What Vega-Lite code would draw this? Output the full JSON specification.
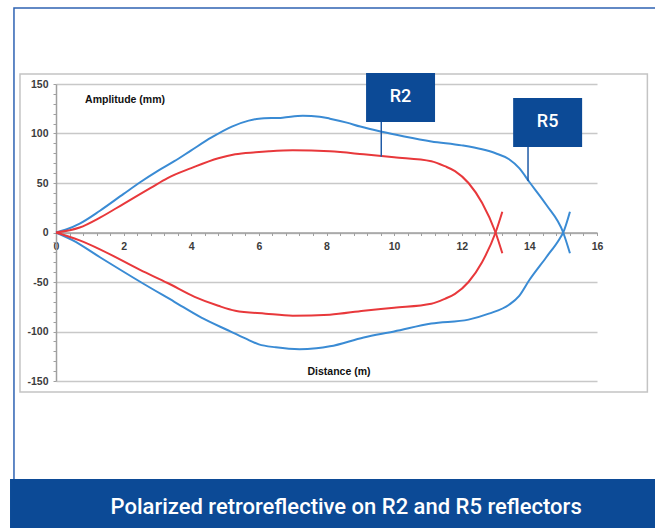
{
  "$schema": "https://vega.github.io/schema/vega-lite/v6.json",
  "width": 541,
  "height": 297,
  "autosize": {"type": "none"},
  "padding": {"left": 56, "top": 84, "right": 58, "bottom": 147},
  "background": "white",
  "config": {
    "view": {"stroke": null},
    "axis": {"labelFont": "Liberation Sans", "titleFont": "Liberation Sans"}
  },
  "datasets": {
    "curves": [
      {"series": "R5", "branch": "upper", "i": 0, "x": 0, "y": 0},
      {"series": "R5", "branch": "upper", "i": 1, "x": 0.3, "y": 3},
      {"series": "R5", "branch": "upper", "i": 2, "x": 0.7, "y": 9},
      {"series": "R5", "branch": "upper", "i": 3, "x": 1.3, "y": 22},
      {"series": "R5", "branch": "upper", "i": 4, "x": 2.0, "y": 39},
      {"series": "R5", "branch": "upper", "i": 5, "x": 2.5, "y": 51},
      {"series": "R5", "branch": "upper", "i": 6, "x": 3.0, "y": 62},
      {"series": "R5", "branch": "upper", "i": 7, "x": 3.5, "y": 72},
      {"series": "R5", "branch": "upper", "i": 8, "x": 4.0, "y": 83},
      {"series": "R5", "branch": "upper", "i": 9, "x": 4.6, "y": 96},
      {"series": "R5", "branch": "upper", "i": 10, "x": 5.2, "y": 107},
      {"series": "R5", "branch": "upper", "i": 11, "x": 5.7, "y": 113},
      {"series": "R5", "branch": "upper", "i": 12, "x": 6.0, "y": 115},
      {"series": "R5", "branch": "upper", "i": 13, "x": 6.7, "y": 116},
      {"series": "R5", "branch": "upper", "i": 14, "x": 7.3, "y": 118},
      {"series": "R5", "branch": "upper", "i": 15, "x": 7.8, "y": 117},
      {"series": "R5", "branch": "upper", "i": 16, "x": 8.1, "y": 115},
      {"series": "R5", "branch": "upper", "i": 17, "x": 8.6, "y": 111},
      {"series": "R5", "branch": "upper", "i": 18, "x": 9.0, "y": 107},
      {"series": "R5", "branch": "upper", "i": 19, "x": 9.6, "y": 102},
      {"series": "R5", "branch": "upper", "i": 20, "x": 10.3, "y": 97},
      {"series": "R5", "branch": "upper", "i": 21, "x": 11.1, "y": 92},
      {"series": "R5", "branch": "upper", "i": 22, "x": 12.0, "y": 88},
      {"series": "R5", "branch": "upper", "i": 23, "x": 12.6, "y": 84},
      {"series": "R5", "branch": "upper", "i": 24, "x": 13.0, "y": 80},
      {"series": "R5", "branch": "upper", "i": 25, "x": 13.4, "y": 74},
      {"series": "R5", "branch": "upper", "i": 26, "x": 13.7, "y": 65},
      {"series": "R5", "branch": "upper", "i": 27, "x": 14.0, "y": 51},
      {"series": "R5", "branch": "upper", "i": 28, "x": 14.5, "y": 28},
      {"series": "R5", "branch": "upper", "i": 29, "x": 15.0, "y": 0},
      {"series": "R5", "branch": "upper", "i": 30, "x": 15.2, "y": -21},
      {"series": "R5", "branch": "lower", "i": 0, "x": 0, "y": 0},
      {"series": "R5", "branch": "lower", "i": 1, "x": 0.5, "y": -8},
      {"series": "R5", "branch": "lower", "i": 2, "x": 1.3, "y": -25},
      {"series": "R5", "branch": "lower", "i": 3, "x": 2.5, "y": -50},
      {"series": "R5", "branch": "lower", "i": 4, "x": 3.5, "y": -70},
      {"series": "R5", "branch": "lower", "i": 5, "x": 4.3, "y": -86},
      {"series": "R5", "branch": "lower", "i": 6, "x": 5.1, "y": -99},
      {"series": "R5", "branch": "lower", "i": 7, "x": 5.6, "y": -107},
      {"series": "R5", "branch": "lower", "i": 8, "x": 6.0, "y": -113},
      {"series": "R5", "branch": "lower", "i": 9, "x": 6.5, "y": -116},
      {"series": "R5", "branch": "lower", "i": 10, "x": 7.2, "y": -118},
      {"series": "R5", "branch": "lower", "i": 11, "x": 7.7, "y": -117},
      {"series": "R5", "branch": "lower", "i": 12, "x": 8.1, "y": -115},
      {"series": "R5", "branch": "lower", "i": 13, "x": 9.1, "y": -106},
      {"series": "R5", "branch": "lower", "i": 14, "x": 10.0, "y": -100},
      {"series": "R5", "branch": "lower", "i": 15, "x": 11.1, "y": -92},
      {"series": "R5", "branch": "lower", "i": 16, "x": 12.2, "y": -88},
      {"series": "R5", "branch": "lower", "i": 17, "x": 12.8, "y": -82},
      {"series": "R5", "branch": "lower", "i": 18, "x": 13.4, "y": -73},
      {"series": "R5", "branch": "lower", "i": 19, "x": 13.7, "y": -64},
      {"series": "R5", "branch": "lower", "i": 20, "x": 14.0, "y": -48},
      {"series": "R5", "branch": "lower", "i": 21, "x": 14.5, "y": -25},
      {"series": "R5", "branch": "lower", "i": 22, "x": 14.9, "y": -6},
      {"series": "R5", "branch": "lower", "i": 23, "x": 15.0, "y": 0},
      {"series": "R5", "branch": "lower", "i": 24, "x": 15.2, "y": 21},
      {"series": "R2", "branch": "upper", "i": 0, "x": 0, "y": 0},
      {"series": "R2", "branch": "upper", "i": 1, "x": 0.7, "y": 5},
      {"series": "R2", "branch": "upper", "i": 2, "x": 1.3, "y": 15},
      {"series": "R2", "branch": "upper", "i": 3, "x": 2.0, "y": 29},
      {"series": "R2", "branch": "upper", "i": 4, "x": 2.8, "y": 45},
      {"series": "R2", "branch": "upper", "i": 5, "x": 3.3, "y": 55},
      {"series": "R2", "branch": "upper", "i": 6, "x": 4.0, "y": 65},
      {"series": "R2", "branch": "upper", "i": 7, "x": 4.8, "y": 75},
      {"series": "R2", "branch": "upper", "i": 8, "x": 5.3, "y": 79},
      {"series": "R2", "branch": "upper", "i": 9, "x": 5.9, "y": 81},
      {"series": "R2", "branch": "upper", "i": 10, "x": 6.3, "y": 82},
      {"series": "R2", "branch": "upper", "i": 11, "x": 7.0, "y": 83},
      {"series": "R2", "branch": "upper", "i": 12, "x": 8.1, "y": 82},
      {"series": "R2", "branch": "upper", "i": 13, "x": 9.1, "y": 79},
      {"series": "R2", "branch": "upper", "i": 14, "x": 10.0, "y": 76},
      {"series": "R2", "branch": "upper", "i": 15, "x": 11.1, "y": 72},
      {"series": "R2", "branch": "upper", "i": 16, "x": 11.5, "y": 67},
      {"series": "R2", "branch": "upper", "i": 17, "x": 11.8, "y": 62},
      {"series": "R2", "branch": "upper", "i": 18, "x": 12.2, "y": 50},
      {"series": "R2", "branch": "upper", "i": 19, "x": 12.6, "y": 30},
      {"series": "R2", "branch": "upper", "i": 20, "x": 13.0, "y": 0},
      {"series": "R2", "branch": "upper", "i": 21, "x": 13.2, "y": -21},
      {"series": "R2", "branch": "lower", "i": 0, "x": 0, "y": 0},
      {"series": "R2", "branch": "lower", "i": 1, "x": 0.7, "y": -8},
      {"series": "R2", "branch": "lower", "i": 2, "x": 1.3, "y": -17},
      {"series": "R2", "branch": "lower", "i": 3, "x": 2.5, "y": -38},
      {"series": "R2", "branch": "lower", "i": 4, "x": 3.3, "y": -51},
      {"series": "R2", "branch": "lower", "i": 5, "x": 4.1, "y": -65},
      {"series": "R2", "branch": "lower", "i": 6, "x": 4.8, "y": -74},
      {"series": "R2", "branch": "lower", "i": 7, "x": 5.3, "y": -79},
      {"series": "R2", "branch": "lower", "i": 8, "x": 6.2, "y": -82},
      {"series": "R2", "branch": "lower", "i": 9, "x": 7.0, "y": -84},
      {"series": "R2", "branch": "lower", "i": 10, "x": 8.1, "y": -83},
      {"series": "R2", "branch": "lower", "i": 11, "x": 9.1, "y": -79},
      {"series": "R2", "branch": "lower", "i": 12, "x": 10.0, "y": -76},
      {"series": "R2", "branch": "lower", "i": 13, "x": 11.1, "y": -72},
      {"series": "R2", "branch": "lower", "i": 14, "x": 11.5, "y": -67},
      {"series": "R2", "branch": "lower", "i": 15, "x": 11.8, "y": -62},
      {"series": "R2", "branch": "lower", "i": 16, "x": 12.2, "y": -50},
      {"series": "R2", "branch": "lower", "i": 17, "x": 12.6, "y": -30},
      {"series": "R2", "branch": "lower", "i": 18, "x": 13.0, "y": 0},
      {"series": "R2", "branch": "lower", "i": 19, "x": 13.2, "y": 21}
    ],
    "one": [{}]
  },
  "layer": [
    {
      "data": {"name": "curves"},
      "mark": {"type": "line", "strokeWidth": 2, "interpolate": "monotone", "clip": false},
      "encoding": {
        "x": {
          "field": "x", "type": "quantitative",
          "scale": {"domain": [0, 16], "nice": false, "zero": false},
          "axis": {
            "title": null,
            "values": [0, 0.4, 0.8, 1.2, 1.6, 2, 2.4, 2.8, 3.2, 3.6, 4, 4.4, 4.8, 5.2, 5.6, 6, 6.4, 6.8, 7.2, 7.6, 8, 8.4, 8.8, 9.2, 9.6, 10, 10.4, 10.8, 11.2, 11.6, 12, 12.4, 12.8, 13.2, 13.6, 14, 14.4, 14.8, 15.2, 15.6, 16],
            "tickCount": 1000,
            "labelExpr": "abs(datum.value - round(datum.value / 2) * 2) < 0.001 ? toString(round(datum.value)) : ''",
            "offset": -148.5,
            "grid": false,
            "domainColor": "#a0a0a0",
            "domainWidth": 1.5,
            "tickColor": "#a0a0a0",
            "tickSize": 3,
            "labelPadding": 6,
            "labelFontSize": 10.5,
            "labelFontWeight": "bold",
            "labelColor": "#3c3c3c",
            "labelOverlap": false,
            "labelFlush": false
          }
        },
        "y": {
          "field": "y", "type": "quantitative",
          "scale": {"domain": [-150, 150], "nice": false, "zero": false},
          "axis": {
            "title": null,
            "values": [-150, -140, -130, -120, -110, -100, -90, -80, -70, -60, -50, -40, -30, -20, -10, 0, 10, 20, 30, 40, 50, 60, 70, 80, 90, 100, 110, 120, 130, 140, 150],
            "tickCount": 1000,
            "labelExpr": "datum.value % 50 === 0 ? toString(datum.value) : ''",
            "grid": true,
            "gridColor": "#c8c8c8",
            "gridWidth": 1.5,
            "gridOpacity": {"condition": {"test": "datum.value % 50 === 0", "value": 1}, "value": 0},
            "domainColor": "#a0a0a0",
            "domainWidth": 1.5,
            "tickColor": "#a0a0a0",
            "tickSize": 3,
            "labelPadding": 5,
            "labelFontSize": 10.5,
            "labelFontWeight": "bold",
            "labelColor": "#3c3c3c",
            "labelOverlap": false,
            "labelFlush": false
          }
        },
        "color": {
          "field": "series", "type": "nominal",
          "scale": {"domain": ["R2", "R5"], "range": ["#e8383b", "#3a8bd4"]},
          "legend": null
        },
        "detail": {"field": "branch"},
        "order": {"field": "i", "type": "quantitative"}
      }
    },
    {
      "data": {"name": "one"},
      "mark": {"type": "rect", "fill": "transparent", "stroke": "#2f63b3", "strokeWidth": 1.5, "clip": false},
      "encoding": {
        "x": {"datum": -1.243, "type": "quantitative"},
        "x2": {"datum": 19.05},
        "y": {"datum": 226.8, "type": "quantitative"},
        "y2": {"datum": -270}
      }
    },
    {
      "data": {"name": "one"},
      "mark": {"type": "rect", "fill": "transparent", "stroke": "#c4c4c4", "strokeWidth": 1.5, "clip": false},
      "encoding": {
        "x": {"datum": -1.065, "type": "quantitative"},
        "x2": {"datum": 17.49},
        "y": {"datum": 160.1, "type": "quantitative"},
        "y2": {"datum": -161.1}
      }
    },
    {
      "data": {"name": "one"},
      "mark": {"type": "rule", "stroke": "#1f5aa6", "strokeWidth": 1.5, "clip": false},
      "encoding": {
        "x": {"datum": 9.62, "type": "quantitative"},
        "y": {"datum": 111.6, "type": "quantitative"},
        "y2": {"datum": 76.5}
      }
    },
    {
      "data": {"name": "one"},
      "mark": {"type": "rule", "stroke": "#1f5aa6", "strokeWidth": 1.5, "clip": false},
      "encoding": {
        "x": {"datum": 13.96, "type": "quantitative"},
        "y": {"datum": 86.4, "type": "quantitative"},
        "y2": {"datum": 52}
      }
    },
    {
      "data": {"name": "one"},
      "mark": {"type": "rect", "fill": "#0c4a96", "clip": false},
      "encoding": {
        "x": {"datum": 9.17, "type": "quantitative"},
        "x2": {"datum": 11.21},
        "y": {"datum": 161.1, "type": "quantitative"},
        "y2": {"datum": 111.6}
      }
    },
    {
      "data": {"name": "one"},
      "mark": {"type": "rect", "fill": "#0c4a96", "clip": false},
      "encoding": {
        "x": {"datum": 13.52, "type": "quantitative"},
        "x2": {"datum": 15.56},
        "y": {"datum": 135.9, "type": "quantitative"},
        "y2": {"datum": 86.4}
      }
    },
    {
      "data": {"name": "one"},
      "mark": {"type": "text", "text": "R2", "color": "white", "font": "Roboto", "fontWeight": 500, "fontSize": 18, "align": "center", "baseline": "middle", "clip": false},
      "encoding": {
        "x": {"datum": 10.19, "type": "quantitative"},
        "y": {"datum": 136.4, "type": "quantitative"}
      }
    },
    {
      "data": {"name": "one"},
      "mark": {"type": "text", "text": "R5", "color": "white", "font": "Roboto", "fontWeight": 500, "fontSize": 18, "align": "center", "baseline": "middle", "clip": false},
      "encoding": {
        "x": {"datum": 14.54, "type": "quantitative"},
        "y": {"datum": 111.2, "type": "quantitative"}
      }
    },
    {
      "data": {"name": "one"},
      "mark": {"type": "text", "text": "Amplitude (mm)", "color": "#111111", "font": "Liberation Sans", "fontWeight": "bold", "fontSize": 10.5, "align": "left", "baseline": "middle", "clip": false},
      "encoding": {
        "x": {"datum": 0.86, "type": "quantitative"},
        "y": {"datum": 133.8, "type": "quantitative"}
      }
    },
    {
      "data": {"name": "one"},
      "mark": {"type": "text", "text": "Distance (m)", "color": "#111111", "font": "Liberation Sans", "fontWeight": "bold", "fontSize": 10.5, "align": "center", "baseline": "middle", "clip": false},
      "encoding": {
        "x": {"datum": 8.37, "type": "quantitative"},
        "y": {"datum": -140.6, "type": "quantitative"}
      }
    },
    {
      "data": {"name": "one"},
      "mark": {"type": "rect", "fill": "#0c4a96", "clip": false},
      "encoding": {
        "x": {"datum": -1.36, "type": "quantitative"},
        "x2": {"datum": 19.05},
        "y": {"datum": -249, "type": "quantitative"},
        "y2": {"datum": -310}
      }
    },
    {
      "data": {"name": "one"},
      "mark": {"type": "text", "text": "Polarized retroreflective on R2 and R5 reflectors", "color": "white", "font": "Roboto", "fontWeight": 500, "fontSize": 22, "align": "center", "baseline": "middle", "clip": false},
      "encoding": {
        "x": {"datum": 8.58, "type": "quantitative"},
        "y": {"datum": -277.3, "type": "quantitative"}
      }
    }
  ]
}
